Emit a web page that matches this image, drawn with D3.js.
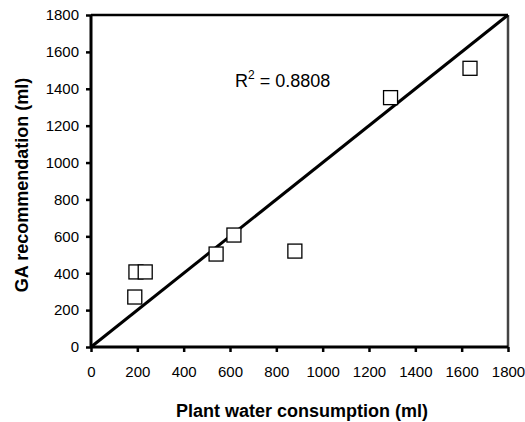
<!DOCTYPE html>
<html><head><meta charset="utf-8">
<script src="https://cdn.jsdelivr.net/npm/d3@7"></script>
<style>body{margin:0;background:#fff;} text{font-family:"Liberation Sans",Arial,sans-serif;}</style>
</head><body><svg id="c" width="525" height="422"></svg>
<script>
const consumption = [189, 194, 234, 540, 617, 880, 1293, 1636];
const recommendation = [271, 407, 407, 504, 607, 520, 1352, 1511];
const lineX = [0, 1800];
const lineY = [0, 1800];
const ticks = [0, 200, 400, 600, 800, 1000, 1200, 1400, 1600, 1800];
const r2Label = "0.8808";
const xTitle = "Plant water consumption (ml)";
const yTitle = "GA recommendation (ml)";

const svg = d3.select("#c");
const L = 91, R = 508, T = 15, B = 347;
const x = d3.scaleLinear().domain([0, 1800]).range([L, R]);
const y = d3.scaleLinear().domain([0, 1800]).range([B, T]);

// plot border (top & right)
svg.append("line").attr("x1", L).attr("x2", R).attr("y1", T).attr("y2", T).attr("stroke", "#000").attr("stroke-width", 2.5);
svg.append("line").attr("x1", R).attr("x2", R).attr("y1", T).attr("y2", B).attr("stroke", "#444").attr("stroke-width", 2.5);

const xa = svg.append("g").attr("transform", `translate(0,${B})`)
  .call(d3.axisBottom(x).tickValues(ticks).tickSize(5).tickPadding(14).tickFormat(d3.format("d")));
const ya = svg.append("g").attr("transform", `translate(${L},0)`)
  .call(d3.axisLeft(y).tickValues(ticks).tickSize(5).tickPadding(7).tickFormat(d3.format("d")));
[xa, ya].forEach(a => {
  a.select(".domain").attr("stroke", "#000").attr("stroke-width", 3);
  a.selectAll(".tick line").attr("stroke", "#000").attr("stroke-width", 2.5);
  a.selectAll(".tick text").attr("font-size", 15).attr("fill", "#000").attr("font-family", "Liberation Sans, Arial, sans-serif");
});
xa.select(".domain").attr("d", `M${L},0H${R}`);
ya.select(".domain").attr("d", `M0,${B}V${T}`);

// 1:1 line
svg.append("line")
  .attr("x1", x(lineX[0])).attr("y1", y(lineY[0]))
  .attr("x2", x(lineX[1])).attr("y2", y(lineY[1]))
  .attr("stroke", "#000").attr("stroke-width", 3);

// points
const s = 14;
svg.append("g").selectAll("rect").data(consumption).join("rect")
  .attr("x", (d) => x(d) - s / 2)
  .attr("y", (d, i) => y(recommendation[i]) - s / 2)
  .attr("width", s).attr("height", s)
  .attr("fill", "#fff").attr("stroke", "#000").attr("stroke-width", 1.3);

// R2 label
const t = svg.append("text").attr("x", 235).attr("y", 87).attr("font-size", 18).attr("fill", "#000");
t.append("tspan").text("R");
t.append("tspan").attr("font-size", 12).attr("dy", -8).text("2");
t.append("tspan").attr("dy", 8).text(" = " + r2Label);

svg.append("text").attr("x", 302).attr("y", 417).attr("text-anchor", "middle")
  .attr("font-size", 18).attr("font-weight", "bold").text(xTitle);
svg.append("text").attr("transform", `translate(28,${(T + B) / 2 + 4}) rotate(-90)`).attr("text-anchor", "middle")
  .attr("font-size", 18).attr("font-weight", "bold").text(yTitle);
</script></body></html>
